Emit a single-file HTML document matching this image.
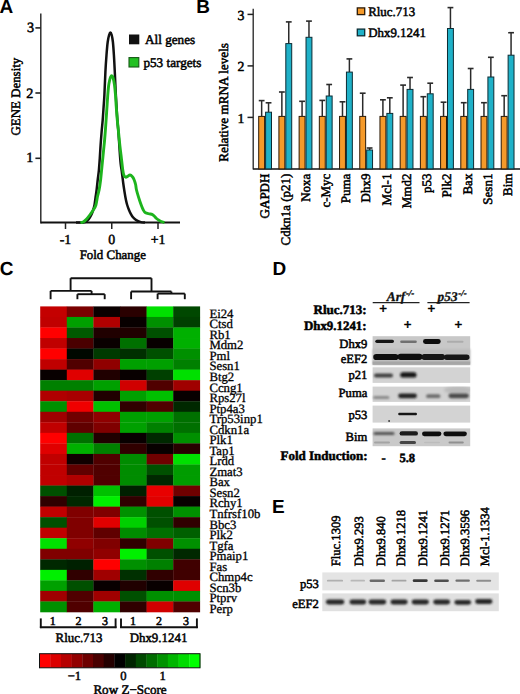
<!DOCTYPE html>
<html><head><meta charset="utf-8"><style>
html,body{margin:0;padding:0;background:#fff;}
svg{display:block;} text{text-rendering:geometricPrecision;}
</style></head><body>
<svg width="520" height="694" viewBox="0 0 520 694">
<defs><filter id="b1" x="-20%" y="-100%" width="140%" height="300%"><feGaussianBlur stdDeviation="0.1"/></filter><filter id="b2" x="-20%" y="-100%" width="140%" height="300%"><feGaussianBlur stdDeviation="0.2"/></filter><filter id="b3" x="-20%" y="-100%" width="140%" height="300%"><feGaussianBlur stdDeviation="0.3"/></filter><filter id="b4" x="-20%" y="-100%" width="140%" height="300%"><feGaussianBlur stdDeviation="0.4"/></filter><filter id="b5" x="-20%" y="-100%" width="140%" height="300%"><feGaussianBlur stdDeviation="0.5"/></filter><filter id="b6" x="-20%" y="-100%" width="140%" height="300%"><feGaussianBlur stdDeviation="0.6"/></filter><filter id="b7" x="-20%" y="-100%" width="140%" height="300%"><feGaussianBlur stdDeviation="0.7"/></filter><filter id="b8" x="-20%" y="-100%" width="140%" height="300%"><feGaussianBlur stdDeviation="0.8"/></filter><filter id="b9" x="-20%" y="-100%" width="140%" height="300%"><feGaussianBlur stdDeviation="0.9"/></filter><filter id="b10" x="-20%" y="-100%" width="140%" height="300%"><feGaussianBlur stdDeviation="1.0"/></filter><filter id="b11" x="-20%" y="-100%" width="140%" height="300%"><feGaussianBlur stdDeviation="1.1"/></filter><filter id="b12" x="-20%" y="-100%" width="140%" height="300%"><feGaussianBlur stdDeviation="1.2"/></filter><filter id="b13" x="-20%" y="-100%" width="140%" height="300%"><feGaussianBlur stdDeviation="1.3"/></filter><filter id="b14" x="-20%" y="-100%" width="140%" height="300%"><feGaussianBlur stdDeviation="1.4"/></filter><filter id="b15" x="-20%" y="-100%" width="140%" height="300%"><feGaussianBlur stdDeviation="1.5"/></filter><filter id="b16" x="-20%" y="-100%" width="140%" height="300%"><feGaussianBlur stdDeviation="1.6"/></filter><filter id="b17" x="-20%" y="-100%" width="140%" height="300%"><feGaussianBlur stdDeviation="1.7"/></filter><filter id="b18" x="-20%" y="-100%" width="140%" height="300%"><feGaussianBlur stdDeviation="1.8"/></filter><filter id="b19" x="-20%" y="-100%" width="140%" height="300%"><feGaussianBlur stdDeviation="1.9"/></filter><filter id="b20" x="-20%" y="-100%" width="140%" height="300%"><feGaussianBlur stdDeviation="2.0"/></filter><filter id="b21" x="-20%" y="-100%" width="140%" height="300%"><feGaussianBlur stdDeviation="2.1"/></filter><filter id="b22" x="-20%" y="-100%" width="140%" height="300%"><feGaussianBlur stdDeviation="2.2"/></filter><filter id="b23" x="-20%" y="-100%" width="140%" height="300%"><feGaussianBlur stdDeviation="2.3"/></filter><filter id="b24" x="-20%" y="-100%" width="140%" height="300%"><feGaussianBlur stdDeviation="2.4"/></filter><filter id="b25" x="-20%" y="-100%" width="140%" height="300%"><feGaussianBlur stdDeviation="2.5"/></filter><filter id="b26" x="-20%" y="-100%" width="140%" height="300%"><feGaussianBlur stdDeviation="2.6"/></filter><filter id="b27" x="-20%" y="-100%" width="140%" height="300%"><feGaussianBlur stdDeviation="2.7"/></filter><filter id="b28" x="-20%" y="-100%" width="140%" height="300%"><feGaussianBlur stdDeviation="2.8"/></filter><filter id="b29" x="-20%" y="-100%" width="140%" height="300%"><feGaussianBlur stdDeviation="2.9"/></filter><filter id="b30" x="-20%" y="-100%" width="140%" height="300%"><feGaussianBlur stdDeviation="3.0"/></filter></defs>
<rect width="520" height="694" fill="#fff"/>
<text x="-0.60" y="12.60" font-size="19" text-anchor="start" font-weight="bold" font-style="normal" font-family="'Liberation Sans', sans-serif" fill="#000" >A</text>
<text x="196.20" y="12.60" font-size="19" text-anchor="start" font-weight="bold" font-style="normal" font-family="'Liberation Sans', sans-serif" fill="#000" >B</text>
<text x="-0.20" y="274.60" font-size="19" text-anchor="start" font-weight="bold" font-style="normal" font-family="'Liberation Sans', sans-serif" fill="#000" >C</text>
<text x="272.60" y="274.60" font-size="19" text-anchor="start" font-weight="bold" font-style="normal" font-family="'Liberation Sans', sans-serif" fill="#000" >D</text>
<text x="271.90" y="513.40" font-size="19" text-anchor="start" font-weight="bold" font-style="normal" font-family="'Liberation Sans', sans-serif" fill="#000" >E</text>
<line x1="40.80" y1="13.50" x2="40.80" y2="223.40" stroke="#222" stroke-width="1.4"/>
<line x1="40.80" y1="222.60" x2="180.00" y2="222.60" stroke="#111" stroke-width="2.0"/>
<line x1="35.40" y1="27.90" x2="40.80" y2="27.90" stroke="#222" stroke-width="1.6"/>
<text x="34.20" y="31.80" font-size="14.2" text-anchor="end" font-weight="normal" font-style="normal" font-family="'Liberation Serif', serif" fill="#000" stroke="#000" stroke-width="0.5" >3</text>
<line x1="35.40" y1="93.00" x2="40.80" y2="93.00" stroke="#222" stroke-width="1.6"/>
<text x="33.30" y="97.60" font-size="14.2" text-anchor="end" font-weight="normal" font-style="normal" font-family="'Liberation Serif', serif" fill="#000" stroke="#000" stroke-width="0.5" >2</text>
<line x1="35.40" y1="158.30" x2="40.80" y2="158.30" stroke="#222" stroke-width="1.6"/>
<text x="33.40" y="162.30" font-size="14.2" text-anchor="end" font-weight="normal" font-style="normal" font-family="'Liberation Serif', serif" fill="#000" stroke="#000" stroke-width="0.5" >1</text>
<line x1="65.50" y1="222.60" x2="65.50" y2="229.00" stroke="#222" stroke-width="1.5"/>
<text x="65.50" y="244.30" font-size="13.8" text-anchor="middle" font-weight="normal" font-style="normal" font-family="'Liberation Serif', serif" fill="#000" stroke="#000" stroke-width="0.5" >-1</text>
<line x1="111.75" y1="222.60" x2="111.75" y2="229.00" stroke="#222" stroke-width="1.5"/>
<text x="111.75" y="244.30" font-size="13.8" text-anchor="middle" font-weight="normal" font-style="normal" font-family="'Liberation Serif', serif" fill="#000" stroke="#000" stroke-width="0.5" >0</text>
<line x1="158.00" y1="222.60" x2="158.00" y2="229.00" stroke="#222" stroke-width="1.5"/>
<text x="158.00" y="244.30" font-size="13.8" text-anchor="middle" font-weight="normal" font-style="normal" font-family="'Liberation Serif', serif" fill="#000" stroke="#000" stroke-width="0.5" >+1</text>
<text x="112.80" y="258.80" font-size="12.9" text-anchor="middle" font-weight="normal" font-style="normal" font-family="'Liberation Serif', serif" fill="#000" stroke="#000" stroke-width="0.5" >Fold Change</text>
<text transform="translate(19.90,96.60) rotate(-90)" font-size="12.9" text-anchor="middle" font-weight="normal" font-family="'Liberation Serif', serif" fill="#000" stroke="#000" stroke-width="0.5">GENE Density</text>
<path d="M76.00,222.60 C76.67,222.60 78.75,222.63 80.00,222.60 C81.25,222.57 82.50,222.57 83.50,222.40 C84.50,222.23 85.13,222.13 86.00,221.60 C86.87,221.07 87.87,220.22 88.70,219.20 C89.53,218.18 90.28,216.95 91.00,215.50 C91.72,214.05 92.42,212.25 93.00,210.50 C93.58,208.75 94.07,207.25 94.50,205.00 C94.93,202.75 95.25,199.50 95.60,197.00 C95.95,194.50 96.25,192.83 96.60,190.00 C96.95,187.17 97.32,183.33 97.70,180.00 C98.08,176.67 98.55,173.67 98.90,170.00 C99.25,166.33 99.52,162.17 99.80,158.00 C100.08,153.83 100.30,149.33 100.60,145.00 C100.90,140.67 101.25,136.17 101.60,132.00 C101.95,127.83 102.37,124.17 102.70,120.00 C103.03,115.83 103.32,111.17 103.60,107.00 C103.88,102.83 104.10,100.83 104.40,95.00 C104.70,89.17 105.05,78.67 105.40,72.00 C105.75,65.33 106.12,60.00 106.50,55.00 C106.88,50.00 107.27,45.33 107.70,42.00 C108.13,38.67 108.65,36.57 109.10,35.00 C109.55,33.43 109.97,32.60 110.40,32.60 C110.83,32.60 111.28,33.43 111.70,35.00 C112.12,36.57 112.53,38.67 112.90,42.00 C113.27,45.33 113.58,50.00 113.90,55.00 C114.22,60.00 114.48,65.50 114.80,72.00 C115.12,78.50 115.40,86.40 115.80,94.00 C116.20,101.60 116.75,111.10 117.20,117.60 C117.65,124.10 118.10,127.60 118.50,133.00 C118.90,138.40 119.25,145.00 119.60,150.00 C119.95,155.00 120.23,159.42 120.60,163.00 C120.97,166.58 121.37,168.17 121.80,171.50 C122.23,174.83 122.75,179.63 123.20,183.00 C123.65,186.37 124.05,188.90 124.50,191.70 C124.95,194.50 125.45,197.58 125.90,199.80 C126.35,202.02 126.68,203.30 127.20,205.00 C127.72,206.70 128.40,208.53 129.00,210.00 C129.60,211.47 130.13,212.58 130.80,213.80 C131.47,215.02 132.23,216.33 133.00,217.30 C133.77,218.27 134.53,218.95 135.40,219.60 C136.27,220.25 137.27,220.78 138.20,221.20 C139.13,221.62 139.87,221.87 141.00,222.10 C142.13,222.33 144.33,222.52 145.00,222.60" fill="none" stroke="#111" stroke-width="2.5" stroke-linejoin="round"/>
<path d="M80.40,222.60 C80.87,222.50 82.20,222.57 83.20,222.00 C84.20,221.43 85.30,220.37 86.40,219.20 C87.50,218.03 88.65,216.53 89.80,215.00 C90.95,213.47 92.28,211.67 93.30,210.00 C94.32,208.33 95.18,207.33 95.90,205.00 C96.62,202.67 97.07,198.50 97.60,196.00 C98.13,193.50 98.60,192.67 99.10,190.00 C99.60,187.33 100.18,183.33 100.60,180.00 C101.02,176.67 101.27,173.33 101.60,170.00 C101.93,166.67 102.27,163.33 102.60,160.00 C102.93,156.67 103.27,153.33 103.60,150.00 C103.93,146.67 104.30,143.33 104.60,140.00 C104.90,136.67 105.15,133.33 105.40,130.00 C105.65,126.67 105.85,123.67 106.10,120.00 C106.35,116.33 106.63,112.00 106.90,108.00 C107.17,104.00 107.42,99.67 107.70,96.00 C107.98,92.33 108.27,88.67 108.60,86.00 C108.93,83.33 109.37,81.50 109.70,80.00 C110.03,78.50 110.28,77.70 110.60,77.00 C110.92,76.30 111.22,75.77 111.60,75.80 C111.98,75.83 112.43,75.77 112.90,77.20 C113.37,78.63 113.97,81.43 114.40,84.40 C114.83,87.37 115.20,91.40 115.50,95.00 C115.80,98.60 115.90,101.83 116.20,106.00 C116.50,110.17 116.90,115.50 117.30,120.00 C117.70,124.50 118.17,128.67 118.60,133.00 C119.03,137.33 119.50,142.33 119.90,146.00 C120.30,149.67 120.70,152.50 121.00,155.00 C121.30,157.50 121.43,158.72 121.70,161.00 C121.97,163.28 122.25,166.37 122.60,168.70 C122.95,171.03 123.28,173.58 123.80,175.00 C124.32,176.42 125.08,176.97 125.70,177.20 C126.32,177.43 126.78,176.77 127.50,176.40 C128.22,176.03 129.18,174.95 130.00,175.00 C130.82,175.05 131.73,175.95 132.40,176.70 C133.07,177.45 133.47,178.20 134.00,179.50 C134.53,180.80 135.18,182.75 135.60,184.50 C136.02,186.25 135.98,187.82 136.50,190.00 C137.02,192.18 137.92,195.10 138.70,197.60 C139.48,200.10 140.43,202.93 141.20,205.00 C141.97,207.07 142.58,208.70 143.30,210.00 C144.02,211.30 144.48,212.17 145.50,212.80 C146.52,213.43 148.32,213.53 149.40,213.80 C150.48,214.07 151.20,214.03 152.00,214.40 C152.80,214.77 153.45,215.32 154.20,216.00 C154.95,216.68 155.70,217.78 156.50,218.50 C157.30,219.22 158.22,219.80 159.00,220.30 C159.78,220.80 160.28,221.13 161.20,221.50 C162.12,221.87 163.95,222.33 164.50,222.50" fill="none" stroke="#1db41d" stroke-width="2.9" stroke-linejoin="round"/>
<rect x="129.00" y="34.50" width="10.30" height="9.80" fill="#111"/>
<text x="145.00" y="44.30" font-size="13.2" text-anchor="start" font-weight="normal" font-style="normal" font-family="'Liberation Serif', serif" fill="#000" stroke="#000" stroke-width="0.5" >All genes</text>
<rect x="129.00" y="57.60" width="9.80" height="9.40" fill="#22c022" stroke="#145814" stroke-width="1.1"/>
<text x="143.40" y="67.40" font-size="13.2" text-anchor="start" font-weight="normal" font-style="normal" font-family="'Liberation Serif', serif" fill="#000" stroke="#000" stroke-width="0.5" >p53 targets</text>
<line x1="253.20" y1="8.80" x2="253.20" y2="169.50" stroke="#222" stroke-width="1.3"/>
<line x1="253.20" y1="168.90" x2="520.00" y2="168.90" stroke="#111" stroke-width="1.5"/>
<line x1="247.50" y1="117.40" x2="253.20" y2="117.40" stroke="#222" stroke-width="1.5"/>
<text x="244.30" y="122.70" font-size="13.8" text-anchor="end" font-weight="normal" font-style="normal" font-family="'Liberation Serif', serif" fill="#000" stroke="#000" stroke-width="0.5" >1</text>
<line x1="247.50" y1="65.90" x2="253.20" y2="65.90" stroke="#222" stroke-width="1.5"/>
<text x="244.30" y="71.20" font-size="13.8" text-anchor="end" font-weight="normal" font-style="normal" font-family="'Liberation Serif', serif" fill="#000" stroke="#000" stroke-width="0.5" >2</text>
<line x1="247.50" y1="14.40" x2="253.20" y2="14.40" stroke="#222" stroke-width="1.5"/>
<text x="244.30" y="19.70" font-size="13.8" text-anchor="end" font-weight="normal" font-style="normal" font-family="'Liberation Serif', serif" fill="#000" stroke="#000" stroke-width="0.5" >3</text>
<text transform="translate(227.60,102.40) rotate(-90)" font-size="13.2" text-anchor="middle" font-weight="normal" font-family="'Liberation Serif', serif" fill="#000" stroke="#000" stroke-width="0.5">Relative mRNA levels</text>
<line x1="261.65" y1="100.60" x2="261.65" y2="116.40" stroke="#2a2a2a" stroke-width="1.5"/>
<line x1="258.75" y1="100.60" x2="264.55" y2="100.60" stroke="#2a2a2a" stroke-width="1.6"/>
<line x1="268.55" y1="102.80" x2="268.55" y2="112.20" stroke="#2a2a2a" stroke-width="1.5"/>
<line x1="265.65" y1="102.80" x2="271.45" y2="102.80" stroke="#2a2a2a" stroke-width="1.6"/>
<rect x="258.70" y="116.40" width="5.90" height="52.50" fill="#f59a2a" stroke="#2a1a08" stroke-width="1.0"/>
<rect x="265.60" y="112.20" width="5.90" height="56.70" fill="#1fb1c8" stroke="#0c2c34" stroke-width="1.0"/>
<text transform="translate(269.40,173.60) rotate(-90)" font-size="13.0" text-anchor="end" font-weight="normal" font-family="'Liberation Serif', serif" fill="#000" stroke="#000" stroke-width="0.5">GAPDH</text>
<line x1="281.86" y1="92.00" x2="281.86" y2="116.40" stroke="#2a2a2a" stroke-width="1.5"/>
<line x1="278.96" y1="92.00" x2="284.76" y2="92.00" stroke="#2a2a2a" stroke-width="1.6"/>
<line x1="288.76" y1="21.90" x2="288.76" y2="43.60" stroke="#2a2a2a" stroke-width="1.5"/>
<line x1="285.86" y1="21.90" x2="291.66" y2="21.90" stroke="#2a2a2a" stroke-width="1.6"/>
<rect x="278.91" y="116.40" width="5.90" height="52.50" fill="#f59a2a" stroke="#2a1a08" stroke-width="1.0"/>
<rect x="285.81" y="43.60" width="5.90" height="125.30" fill="#1fb1c8" stroke="#0c2c34" stroke-width="1.0"/>
<text transform="translate(289.61,173.60) rotate(-90)" font-size="13.0" text-anchor="end" font-weight="normal" font-family="'Liberation Serif', serif" fill="#000" stroke="#000" stroke-width="0.5">Cdkn1a (p21)</text>
<line x1="302.07" y1="101.30" x2="302.07" y2="116.40" stroke="#2a2a2a" stroke-width="1.5"/>
<line x1="299.17" y1="101.30" x2="304.97" y2="101.30" stroke="#2a2a2a" stroke-width="1.6"/>
<line x1="308.97" y1="21.10" x2="308.97" y2="37.30" stroke="#2a2a2a" stroke-width="1.5"/>
<line x1="306.07" y1="21.10" x2="311.87" y2="21.10" stroke="#2a2a2a" stroke-width="1.6"/>
<rect x="299.12" y="116.40" width="5.90" height="52.50" fill="#f59a2a" stroke="#2a1a08" stroke-width="1.0"/>
<rect x="306.02" y="37.30" width="5.90" height="131.60" fill="#1fb1c8" stroke="#0c2c34" stroke-width="1.0"/>
<text transform="translate(309.82,173.60) rotate(-90)" font-size="13.0" text-anchor="end" font-weight="normal" font-family="'Liberation Serif', serif" fill="#000" stroke="#000" stroke-width="0.5">Noxa</text>
<line x1="322.28" y1="100.40" x2="322.28" y2="116.40" stroke="#2a2a2a" stroke-width="1.5"/>
<line x1="319.38" y1="100.40" x2="325.18" y2="100.40" stroke="#2a2a2a" stroke-width="1.6"/>
<line x1="329.18" y1="84.50" x2="329.18" y2="96.00" stroke="#2a2a2a" stroke-width="1.5"/>
<line x1="326.28" y1="84.50" x2="332.08" y2="84.50" stroke="#2a2a2a" stroke-width="1.6"/>
<rect x="319.33" y="116.40" width="5.90" height="52.50" fill="#f59a2a" stroke="#2a1a08" stroke-width="1.0"/>
<rect x="326.23" y="96.00" width="5.90" height="72.90" fill="#1fb1c8" stroke="#0c2c34" stroke-width="1.0"/>
<text transform="translate(330.03,173.60) rotate(-90)" font-size="13.0" text-anchor="end" font-weight="normal" font-family="'Liberation Serif', serif" fill="#000" stroke="#000" stroke-width="0.5">c-Myc</text>
<line x1="342.49" y1="101.80" x2="342.49" y2="116.40" stroke="#2a2a2a" stroke-width="1.5"/>
<line x1="339.59" y1="101.80" x2="345.39" y2="101.80" stroke="#2a2a2a" stroke-width="1.6"/>
<line x1="349.39" y1="58.90" x2="349.39" y2="72.10" stroke="#2a2a2a" stroke-width="1.5"/>
<line x1="346.49" y1="58.90" x2="352.29" y2="58.90" stroke="#2a2a2a" stroke-width="1.6"/>
<rect x="339.54" y="116.40" width="5.90" height="52.50" fill="#f59a2a" stroke="#2a1a08" stroke-width="1.0"/>
<rect x="346.44" y="72.10" width="5.90" height="96.80" fill="#1fb1c8" stroke="#0c2c34" stroke-width="1.0"/>
<text transform="translate(350.24,173.60) rotate(-90)" font-size="13.0" text-anchor="end" font-weight="normal" font-family="'Liberation Serif', serif" fill="#000" stroke="#000" stroke-width="0.5">Puma</text>
<line x1="362.70" y1="93.20" x2="362.70" y2="116.40" stroke="#2a2a2a" stroke-width="1.5"/>
<line x1="359.80" y1="93.20" x2="365.60" y2="93.20" stroke="#2a2a2a" stroke-width="1.6"/>
<line x1="369.60" y1="148.00" x2="369.60" y2="150.00" stroke="#2a2a2a" stroke-width="1.5"/>
<line x1="366.70" y1="148.00" x2="372.50" y2="148.00" stroke="#2a2a2a" stroke-width="1.6"/>
<rect x="359.75" y="116.40" width="5.90" height="52.50" fill="#f59a2a" stroke="#2a1a08" stroke-width="1.0"/>
<rect x="366.65" y="150.00" width="5.90" height="18.90" fill="#1fb1c8" stroke="#0c2c34" stroke-width="1.0"/>
<text transform="translate(370.45,173.60) rotate(-90)" font-size="13.0" text-anchor="end" font-weight="normal" font-family="'Liberation Serif', serif" fill="#000" stroke="#000" stroke-width="0.5">Dhx9</text>
<line x1="382.91" y1="99.80" x2="382.91" y2="116.40" stroke="#2a2a2a" stroke-width="1.5"/>
<line x1="380.01" y1="99.80" x2="385.81" y2="99.80" stroke="#2a2a2a" stroke-width="1.6"/>
<line x1="389.81" y1="97.80" x2="389.81" y2="113.40" stroke="#2a2a2a" stroke-width="1.5"/>
<line x1="386.91" y1="97.80" x2="392.71" y2="97.80" stroke="#2a2a2a" stroke-width="1.6"/>
<rect x="379.96" y="116.40" width="5.90" height="52.50" fill="#f59a2a" stroke="#2a1a08" stroke-width="1.0"/>
<rect x="386.86" y="113.40" width="5.90" height="55.50" fill="#1fb1c8" stroke="#0c2c34" stroke-width="1.0"/>
<text transform="translate(390.66,173.60) rotate(-90)" font-size="13.0" text-anchor="end" font-weight="normal" font-family="'Liberation Serif', serif" fill="#000" stroke="#000" stroke-width="0.5">Mcl-1</text>
<line x1="403.12" y1="85.10" x2="403.12" y2="116.40" stroke="#2a2a2a" stroke-width="1.5"/>
<line x1="400.22" y1="85.10" x2="406.02" y2="85.10" stroke="#2a2a2a" stroke-width="1.6"/>
<line x1="410.02" y1="77.50" x2="410.02" y2="89.40" stroke="#2a2a2a" stroke-width="1.5"/>
<line x1="407.12" y1="77.50" x2="412.92" y2="77.50" stroke="#2a2a2a" stroke-width="1.6"/>
<rect x="400.17" y="116.40" width="5.90" height="52.50" fill="#f59a2a" stroke="#2a1a08" stroke-width="1.0"/>
<rect x="407.07" y="89.40" width="5.90" height="79.50" fill="#1fb1c8" stroke="#0c2c34" stroke-width="1.0"/>
<text transform="translate(410.87,173.60) rotate(-90)" font-size="13.0" text-anchor="end" font-weight="normal" font-family="'Liberation Serif', serif" fill="#000" stroke="#000" stroke-width="0.5">Mmd2</text>
<line x1="423.33" y1="96.70" x2="423.33" y2="116.40" stroke="#2a2a2a" stroke-width="1.5"/>
<line x1="420.43" y1="96.70" x2="426.23" y2="96.70" stroke="#2a2a2a" stroke-width="1.6"/>
<line x1="430.23" y1="83.20" x2="430.23" y2="93.80" stroke="#2a2a2a" stroke-width="1.5"/>
<line x1="427.33" y1="83.20" x2="433.13" y2="83.20" stroke="#2a2a2a" stroke-width="1.6"/>
<rect x="420.38" y="116.40" width="5.90" height="52.50" fill="#f59a2a" stroke="#2a1a08" stroke-width="1.0"/>
<rect x="427.28" y="93.80" width="5.90" height="75.10" fill="#1fb1c8" stroke="#0c2c34" stroke-width="1.0"/>
<text transform="translate(431.08,173.60) rotate(-90)" font-size="13.0" text-anchor="end" font-weight="normal" font-family="'Liberation Serif', serif" fill="#000" stroke="#000" stroke-width="0.5">p53</text>
<line x1="443.54" y1="102.20" x2="443.54" y2="116.40" stroke="#2a2a2a" stroke-width="1.5"/>
<line x1="440.64" y1="102.20" x2="446.44" y2="102.20" stroke="#2a2a2a" stroke-width="1.6"/>
<line x1="450.44" y1="7.60" x2="450.44" y2="28.50" stroke="#2a2a2a" stroke-width="1.5"/>
<line x1="447.54" y1="7.60" x2="453.34" y2="7.60" stroke="#2a2a2a" stroke-width="1.6"/>
<rect x="440.59" y="116.40" width="5.90" height="52.50" fill="#f59a2a" stroke="#2a1a08" stroke-width="1.0"/>
<rect x="447.49" y="28.50" width="5.90" height="140.40" fill="#1fb1c8" stroke="#0c2c34" stroke-width="1.0"/>
<text transform="translate(451.29,173.60) rotate(-90)" font-size="13.0" text-anchor="end" font-weight="normal" font-family="'Liberation Serif', serif" fill="#000" stroke="#000" stroke-width="0.5">Plk2</text>
<line x1="463.75" y1="102.70" x2="463.75" y2="116.40" stroke="#2a2a2a" stroke-width="1.5"/>
<line x1="460.85" y1="102.70" x2="466.65" y2="102.70" stroke="#2a2a2a" stroke-width="1.6"/>
<line x1="470.65" y1="68.50" x2="470.65" y2="89.40" stroke="#2a2a2a" stroke-width="1.5"/>
<line x1="467.75" y1="68.50" x2="473.55" y2="68.50" stroke="#2a2a2a" stroke-width="1.6"/>
<rect x="460.80" y="116.40" width="5.90" height="52.50" fill="#f59a2a" stroke="#2a1a08" stroke-width="1.0"/>
<rect x="467.70" y="89.40" width="5.90" height="79.50" fill="#1fb1c8" stroke="#0c2c34" stroke-width="1.0"/>
<text transform="translate(471.50,173.60) rotate(-90)" font-size="13.0" text-anchor="end" font-weight="normal" font-family="'Liberation Serif', serif" fill="#000" stroke="#000" stroke-width="0.5">Bax</text>
<line x1="483.96" y1="102.70" x2="483.96" y2="116.40" stroke="#2a2a2a" stroke-width="1.5"/>
<line x1="481.06" y1="102.70" x2="486.86" y2="102.70" stroke="#2a2a2a" stroke-width="1.6"/>
<line x1="490.86" y1="57.30" x2="490.86" y2="77.00" stroke="#2a2a2a" stroke-width="1.5"/>
<line x1="487.96" y1="57.30" x2="493.76" y2="57.30" stroke="#2a2a2a" stroke-width="1.6"/>
<rect x="481.01" y="116.40" width="5.90" height="52.50" fill="#f59a2a" stroke="#2a1a08" stroke-width="1.0"/>
<rect x="487.91" y="77.00" width="5.90" height="91.90" fill="#1fb1c8" stroke="#0c2c34" stroke-width="1.0"/>
<text transform="translate(491.71,173.60) rotate(-90)" font-size="13.0" text-anchor="end" font-weight="normal" font-family="'Liberation Serif', serif" fill="#000" stroke="#000" stroke-width="0.5">Sesn1</text>
<line x1="504.17" y1="95.70" x2="504.17" y2="116.40" stroke="#2a2a2a" stroke-width="1.5"/>
<line x1="501.27" y1="95.70" x2="507.07" y2="95.70" stroke="#2a2a2a" stroke-width="1.6"/>
<line x1="511.07" y1="32.70" x2="511.07" y2="55.20" stroke="#2a2a2a" stroke-width="1.5"/>
<line x1="508.17" y1="32.70" x2="513.97" y2="32.70" stroke="#2a2a2a" stroke-width="1.6"/>
<rect x="501.22" y="116.40" width="5.90" height="52.50" fill="#f59a2a" stroke="#2a1a08" stroke-width="1.0"/>
<rect x="508.12" y="55.20" width="5.90" height="113.70" fill="#1fb1c8" stroke="#0c2c34" stroke-width="1.0"/>
<text transform="translate(511.92,173.60) rotate(-90)" font-size="13.0" text-anchor="end" font-weight="normal" font-family="'Liberation Serif', serif" fill="#000" stroke="#000" stroke-width="0.5">Bim</text>
<rect x="357.30" y="7.90" width="7.40" height="6.70" fill="#f59a2a" stroke="#2a1a08" stroke-width="1.3"/>
<text x="368.20" y="15.60" font-size="12.9" text-anchor="start" font-weight="normal" font-style="normal" font-family="'Liberation Serif', serif" fill="#000" stroke="#000" stroke-width="0.5" >Rluc.713</text>
<rect x="357.30" y="29.10" width="7.40" height="6.70" fill="#1fb1c8" stroke="#0c2c34" stroke-width="1.3"/>
<text x="368.20" y="36.60" font-size="12.9" text-anchor="start" font-weight="normal" font-style="normal" font-family="'Liberation Serif', serif" fill="#000" stroke="#000" stroke-width="0.5" >Dhx9.1241</text>
<rect x="40.20" y="306.40" width="26.90" height="10.84" fill="rgb(196,0,0)"/>
<rect x="66.80" y="306.40" width="26.90" height="10.84" fill="rgb(122,0,0)"/>
<rect x="93.40" y="306.40" width="26.90" height="10.84" fill="rgb(10,0,0)"/>
<rect x="120.00" y="306.40" width="26.90" height="10.84" fill="rgb(42,0,0)"/>
<rect x="146.60" y="306.40" width="26.90" height="10.84" fill="rgb(0,224,0)"/>
<rect x="173.20" y="306.40" width="26.90" height="10.84" fill="rgb(0,72,0)"/>
<rect x="40.20" y="316.94" width="26.90" height="10.84" fill="rgb(192,0,0)"/>
<rect x="66.80" y="316.94" width="26.90" height="10.84" fill="rgb(0,160,0)"/>
<rect x="93.40" y="316.94" width="26.90" height="10.84" fill="rgb(176,0,0)"/>
<rect x="120.00" y="316.94" width="26.90" height="10.84" fill="rgb(8,0,0)"/>
<rect x="146.60" y="316.94" width="26.90" height="10.84" fill="rgb(0,144,0)"/>
<rect x="173.20" y="316.94" width="26.90" height="10.84" fill="rgb(0,64,0)"/>
<rect x="40.20" y="327.48" width="26.90" height="10.84" fill="rgb(255,0,0)"/>
<rect x="66.80" y="327.48" width="26.90" height="10.84" fill="rgb(0,90,0)"/>
<rect x="93.40" y="327.48" width="26.90" height="10.84" fill="rgb(32,0,0)"/>
<rect x="120.00" y="327.48" width="26.90" height="10.84" fill="rgb(32,0,0)"/>
<rect x="146.60" y="327.48" width="26.90" height="10.84" fill="rgb(0,80,0)"/>
<rect x="173.20" y="327.48" width="26.90" height="10.84" fill="rgb(0,176,0)"/>
<rect x="40.20" y="338.01" width="26.90" height="10.84" fill="rgb(192,0,0)"/>
<rect x="66.80" y="338.01" width="26.90" height="10.84" fill="rgb(74,0,0)"/>
<rect x="93.40" y="338.01" width="26.90" height="10.84" fill="rgb(10,0,0)"/>
<rect x="120.00" y="338.01" width="26.90" height="10.84" fill="rgb(0,112,0)"/>
<rect x="146.60" y="338.01" width="26.90" height="10.84" fill="rgb(8,0,0)"/>
<rect x="173.20" y="338.01" width="26.90" height="10.84" fill="rgb(0,176,0)"/>
<rect x="40.20" y="348.55" width="26.90" height="10.84" fill="rgb(255,0,0)"/>
<rect x="66.80" y="348.55" width="26.90" height="10.84" fill="rgb(0,8,0)"/>
<rect x="93.40" y="348.55" width="26.90" height="10.84" fill="rgb(0,58,0)"/>
<rect x="120.00" y="348.55" width="26.90" height="10.84" fill="rgb(0,48,0)"/>
<rect x="146.60" y="348.55" width="26.90" height="10.84" fill="rgb(0,80,0)"/>
<rect x="173.20" y="348.55" width="26.90" height="10.84" fill="rgb(0,144,0)"/>
<rect x="40.20" y="359.09" width="26.90" height="10.84" fill="rgb(192,0,0)"/>
<rect x="66.80" y="359.09" width="26.90" height="10.84" fill="rgb(80,0,0)"/>
<rect x="93.40" y="359.09" width="26.90" height="10.84" fill="rgb(144,0,0)"/>
<rect x="120.00" y="359.09" width="26.90" height="10.84" fill="rgb(0,160,0)"/>
<rect x="146.60" y="359.09" width="26.90" height="10.84" fill="rgb(0,160,0)"/>
<rect x="173.20" y="359.09" width="26.90" height="10.84" fill="rgb(0,128,0)"/>
<rect x="40.20" y="369.63" width="26.90" height="10.84" fill="rgb(8,0,0)"/>
<rect x="66.80" y="369.63" width="26.90" height="10.84" fill="rgb(224,0,0)"/>
<rect x="93.40" y="369.63" width="26.90" height="10.84" fill="rgb(32,0,0)"/>
<rect x="120.00" y="369.63" width="26.90" height="10.84" fill="rgb(8,0,0)"/>
<rect x="146.60" y="369.63" width="26.90" height="10.84" fill="rgb(0,64,0)"/>
<rect x="173.20" y="369.63" width="26.90" height="10.84" fill="rgb(0,224,0)"/>
<rect x="40.20" y="380.17" width="26.90" height="10.84" fill="rgb(0,128,0)"/>
<rect x="66.80" y="380.17" width="26.90" height="10.84" fill="rgb(0,128,0)"/>
<rect x="93.40" y="380.17" width="26.90" height="10.84" fill="rgb(0,160,0)"/>
<rect x="120.00" y="380.17" width="26.90" height="10.84" fill="rgb(208,0,0)"/>
<rect x="146.60" y="380.17" width="26.90" height="10.84" fill="rgb(80,0,0)"/>
<rect x="173.20" y="380.17" width="26.90" height="10.84" fill="rgb(160,0,0)"/>
<rect x="40.20" y="390.70" width="26.90" height="10.84" fill="rgb(176,0,0)"/>
<rect x="66.80" y="390.70" width="26.90" height="10.84" fill="rgb(168,0,0)"/>
<rect x="93.40" y="390.70" width="26.90" height="10.84" fill="rgb(32,0,0)"/>
<rect x="120.00" y="390.70" width="26.90" height="10.84" fill="rgb(0,160,0)"/>
<rect x="146.60" y="390.70" width="26.90" height="10.84" fill="rgb(0,192,0)"/>
<rect x="173.20" y="390.70" width="26.90" height="10.84" fill="rgb(8,0,0)"/>
<rect x="40.20" y="401.24" width="26.90" height="10.84" fill="rgb(0,144,0)"/>
<rect x="66.80" y="401.24" width="26.90" height="10.84" fill="rgb(240,0,0)"/>
<rect x="93.40" y="401.24" width="26.90" height="10.84" fill="rgb(0,192,0)"/>
<rect x="120.00" y="401.24" width="26.90" height="10.84" fill="rgb(48,0,0)"/>
<rect x="146.60" y="401.24" width="26.90" height="10.84" fill="rgb(80,0,0)"/>
<rect x="173.20" y="401.24" width="26.90" height="10.84" fill="rgb(0,40,0)"/>
<rect x="40.20" y="411.78" width="26.90" height="10.84" fill="rgb(160,0,0)"/>
<rect x="66.80" y="411.78" width="26.90" height="10.84" fill="rgb(112,0,0)"/>
<rect x="93.40" y="411.78" width="26.90" height="10.84" fill="rgb(144,0,0)"/>
<rect x="120.00" y="411.78" width="26.90" height="10.84" fill="rgb(0,160,0)"/>
<rect x="146.60" y="411.78" width="26.90" height="10.84" fill="rgb(0,160,0)"/>
<rect x="173.20" y="411.78" width="26.90" height="10.84" fill="rgb(0,112,0)"/>
<rect x="40.20" y="422.32" width="26.90" height="10.84" fill="rgb(192,0,0)"/>
<rect x="66.80" y="422.32" width="26.90" height="10.84" fill="rgb(96,0,0)"/>
<rect x="93.40" y="422.32" width="26.90" height="10.84" fill="rgb(128,0,0)"/>
<rect x="120.00" y="422.32" width="26.90" height="10.84" fill="rgb(0,160,0)"/>
<rect x="146.60" y="422.32" width="26.90" height="10.84" fill="rgb(0,128,0)"/>
<rect x="173.20" y="422.32" width="26.90" height="10.84" fill="rgb(0,112,0)"/>
<rect x="40.20" y="432.86" width="26.90" height="10.84" fill="rgb(255,0,0)"/>
<rect x="66.80" y="432.86" width="26.90" height="10.84" fill="rgb(0,112,0)"/>
<rect x="93.40" y="432.86" width="26.90" height="10.84" fill="rgb(32,0,0)"/>
<rect x="120.00" y="432.86" width="26.90" height="10.84" fill="rgb(8,0,0)"/>
<rect x="146.60" y="432.86" width="26.90" height="10.84" fill="rgb(0,40,0)"/>
<rect x="173.20" y="432.86" width="26.90" height="10.84" fill="rgb(0,144,0)"/>
<rect x="40.20" y="443.39" width="26.90" height="10.84" fill="rgb(224,0,0)"/>
<rect x="66.80" y="443.39" width="26.90" height="10.84" fill="rgb(0,176,0)"/>
<rect x="93.40" y="443.39" width="26.90" height="10.84" fill="rgb(0,128,0)"/>
<rect x="120.00" y="443.39" width="26.90" height="10.84" fill="rgb(48,0,0)"/>
<rect x="146.60" y="443.39" width="26.90" height="10.84" fill="rgb(8,0,0)"/>
<rect x="173.20" y="443.39" width="26.90" height="10.84" fill="rgb(40,0,0)"/>
<rect x="40.20" y="453.93" width="26.90" height="10.84" fill="rgb(192,0,0)"/>
<rect x="66.80" y="453.93" width="26.90" height="10.84" fill="rgb(16,0,0)"/>
<rect x="93.40" y="453.93" width="26.90" height="10.84" fill="rgb(80,0,0)"/>
<rect x="120.00" y="453.93" width="26.90" height="10.84" fill="rgb(0,140,0)"/>
<rect x="146.60" y="453.93" width="26.90" height="10.84" fill="rgb(112,0,0)"/>
<rect x="173.20" y="453.93" width="26.90" height="10.84" fill="rgb(0,224,0)"/>
<rect x="40.20" y="464.47" width="26.90" height="10.84" fill="rgb(192,0,0)"/>
<rect x="66.80" y="464.47" width="26.90" height="10.84" fill="rgb(96,0,0)"/>
<rect x="93.40" y="464.47" width="26.90" height="10.84" fill="rgb(80,0,0)"/>
<rect x="120.00" y="464.47" width="26.90" height="10.84" fill="rgb(0,140,0)"/>
<rect x="146.60" y="464.47" width="26.90" height="10.84" fill="rgb(0,80,0)"/>
<rect x="173.20" y="464.47" width="26.90" height="10.84" fill="rgb(0,156,0)"/>
<rect x="40.20" y="475.01" width="26.90" height="10.84" fill="rgb(192,0,0)"/>
<rect x="66.80" y="475.01" width="26.90" height="10.84" fill="rgb(176,0,0)"/>
<rect x="93.40" y="475.01" width="26.90" height="10.84" fill="rgb(80,0,0)"/>
<rect x="120.00" y="475.01" width="26.90" height="10.84" fill="rgb(0,140,0)"/>
<rect x="146.60" y="475.01" width="26.90" height="10.84" fill="rgb(0,40,0)"/>
<rect x="173.20" y="475.01" width="26.90" height="10.84" fill="rgb(0,156,0)"/>
<rect x="40.20" y="485.54" width="26.90" height="10.84" fill="rgb(0,80,0)"/>
<rect x="66.80" y="485.54" width="26.90" height="10.84" fill="rgb(0,32,0)"/>
<rect x="93.40" y="485.54" width="26.90" height="10.84" fill="rgb(0,192,0)"/>
<rect x="120.00" y="485.54" width="26.90" height="10.84" fill="rgb(0,32,0)"/>
<rect x="146.60" y="485.54" width="26.90" height="10.84" fill="rgb(232,0,0)"/>
<rect x="173.20" y="485.54" width="26.90" height="10.84" fill="rgb(112,0,0)"/>
<rect x="40.20" y="496.08" width="26.90" height="10.84" fill="rgb(48,0,0)"/>
<rect x="66.80" y="496.08" width="26.90" height="10.84" fill="rgb(0,40,0)"/>
<rect x="93.40" y="496.08" width="26.90" height="10.84" fill="rgb(0,240,0)"/>
<rect x="120.00" y="496.08" width="26.90" height="10.84" fill="rgb(48,0,0)"/>
<rect x="146.60" y="496.08" width="26.90" height="10.84" fill="rgb(224,0,0)"/>
<rect x="173.20" y="496.08" width="26.90" height="10.84" fill="rgb(8,0,0)"/>
<rect x="40.20" y="506.62" width="26.90" height="10.84" fill="rgb(192,0,0)"/>
<rect x="66.80" y="506.62" width="26.90" height="10.84" fill="rgb(128,0,0)"/>
<rect x="93.40" y="506.62" width="26.90" height="10.84" fill="rgb(128,0,0)"/>
<rect x="120.00" y="506.62" width="26.90" height="10.84" fill="rgb(0,144,0)"/>
<rect x="146.60" y="506.62" width="26.90" height="10.84" fill="rgb(0,80,0)"/>
<rect x="173.20" y="506.62" width="26.90" height="10.84" fill="rgb(0,144,0)"/>
<rect x="40.20" y="517.16" width="26.90" height="10.84" fill="rgb(0,80,0)"/>
<rect x="66.80" y="517.16" width="26.90" height="10.84" fill="rgb(128,0,0)"/>
<rect x="93.40" y="517.16" width="26.90" height="10.84" fill="rgb(224,0,0)"/>
<rect x="120.00" y="517.16" width="26.90" height="10.84" fill="rgb(0,208,0)"/>
<rect x="146.60" y="517.16" width="26.90" height="10.84" fill="rgb(0,80,0)"/>
<rect x="173.20" y="517.16" width="26.90" height="10.84" fill="rgb(48,0,0)"/>
<rect x="40.20" y="527.70" width="26.90" height="10.84" fill="rgb(192,0,0)"/>
<rect x="66.80" y="527.70" width="26.90" height="10.84" fill="rgb(128,0,0)"/>
<rect x="93.40" y="527.70" width="26.90" height="10.84" fill="rgb(96,0,0)"/>
<rect x="120.00" y="527.70" width="26.90" height="10.84" fill="rgb(0,140,0)"/>
<rect x="146.60" y="527.70" width="26.90" height="10.84" fill="rgb(0,112,0)"/>
<rect x="173.20" y="527.70" width="26.90" height="10.84" fill="rgb(0,96,0)"/>
<rect x="40.20" y="538.23" width="26.90" height="10.84" fill="rgb(0,224,0)"/>
<rect x="66.80" y="538.23" width="26.90" height="10.84" fill="rgb(144,0,0)"/>
<rect x="93.40" y="538.23" width="26.90" height="10.84" fill="rgb(128,0,0)"/>
<rect x="120.00" y="538.23" width="26.90" height="10.84" fill="rgb(48,0,0)"/>
<rect x="146.60" y="538.23" width="26.90" height="10.84" fill="rgb(128,0,0)"/>
<rect x="173.20" y="538.23" width="26.90" height="10.84" fill="rgb(0,144,0)"/>
<rect x="40.20" y="548.77" width="26.90" height="10.84" fill="rgb(128,0,0)"/>
<rect x="66.80" y="548.77" width="26.90" height="10.84" fill="rgb(128,0,0)"/>
<rect x="93.40" y="548.77" width="26.90" height="10.84" fill="rgb(144,0,0)"/>
<rect x="120.00" y="548.77" width="26.90" height="10.84" fill="rgb(0,240,0)"/>
<rect x="146.60" y="548.77" width="26.90" height="10.84" fill="rgb(0,80,0)"/>
<rect x="173.20" y="548.77" width="26.90" height="10.84" fill="rgb(0,40,0)"/>
<rect x="40.20" y="559.31" width="26.90" height="10.84" fill="rgb(0,40,0)"/>
<rect x="66.80" y="559.31" width="26.90" height="10.84" fill="rgb(0,32,0)"/>
<rect x="93.40" y="559.31" width="26.90" height="10.84" fill="rgb(255,0,0)"/>
<rect x="120.00" y="559.31" width="26.90" height="10.84" fill="rgb(0,144,0)"/>
<rect x="146.60" y="559.31" width="26.90" height="10.84" fill="rgb(0,128,0)"/>
<rect x="173.20" y="559.31" width="26.90" height="10.84" fill="rgb(64,0,0)"/>
<rect x="40.20" y="569.85" width="26.90" height="10.84" fill="rgb(0,240,0)"/>
<rect x="66.80" y="569.85" width="26.90" height="10.84" fill="rgb(48,0,0)"/>
<rect x="93.40" y="569.85" width="26.90" height="10.84" fill="rgb(160,0,0)"/>
<rect x="120.00" y="569.85" width="26.90" height="10.84" fill="rgb(0,48,0)"/>
<rect x="146.60" y="569.85" width="26.90" height="10.84" fill="rgb(48,0,0)"/>
<rect x="173.20" y="569.85" width="26.90" height="10.84" fill="rgb(64,0,0)"/>
<rect x="40.20" y="580.39" width="26.90" height="10.84" fill="rgb(0,160,0)"/>
<rect x="66.80" y="580.39" width="26.90" height="10.84" fill="rgb(0,80,0)"/>
<rect x="93.40" y="580.39" width="26.90" height="10.84" fill="rgb(8,0,0)"/>
<rect x="120.00" y="580.39" width="26.90" height="10.84" fill="rgb(32,0,0)"/>
<rect x="146.60" y="580.39" width="26.90" height="10.84" fill="rgb(8,0,0)"/>
<rect x="173.20" y="580.39" width="26.90" height="10.84" fill="rgb(224,0,0)"/>
<rect x="40.20" y="590.92" width="26.90" height="10.84" fill="rgb(160,0,0)"/>
<rect x="66.80" y="590.92" width="26.90" height="10.84" fill="rgb(80,0,0)"/>
<rect x="93.40" y="590.92" width="26.90" height="10.84" fill="rgb(160,0,0)"/>
<rect x="120.00" y="590.92" width="26.90" height="10.84" fill="rgb(0,80,0)"/>
<rect x="146.60" y="590.92" width="26.90" height="10.84" fill="rgb(0,144,0)"/>
<rect x="173.20" y="590.92" width="26.90" height="10.84" fill="rgb(0,144,0)"/>
<rect x="40.20" y="601.46" width="26.90" height="10.84" fill="rgb(0,144,0)"/>
<rect x="66.80" y="601.46" width="26.90" height="10.84" fill="rgb(80,0,0)"/>
<rect x="93.40" y="601.46" width="26.90" height="10.84" fill="rgb(0,176,0)"/>
<rect x="120.00" y="601.46" width="26.90" height="10.84" fill="rgb(48,0,0)"/>
<rect x="146.60" y="601.46" width="26.90" height="10.84" fill="rgb(208,0,0)"/>
<rect x="173.20" y="601.46" width="26.90" height="10.84" fill="rgb(80,0,0)"/>
<text x="209.40" y="317.77" font-size="12.75" text-anchor="start" font-weight="normal" font-style="normal" font-family="'Liberation Serif', serif" fill="#000" stroke="#000" stroke-width="0.3" >Ei24</text>
<text x="209.40" y="328.31" font-size="12.75" text-anchor="start" font-weight="normal" font-style="normal" font-family="'Liberation Serif', serif" fill="#000" stroke="#000" stroke-width="0.3" >Ctsd</text>
<text x="209.40" y="338.84" font-size="12.75" text-anchor="start" font-weight="normal" font-style="normal" font-family="'Liberation Serif', serif" fill="#000" stroke="#000" stroke-width="0.3" >Rb1</text>
<text x="209.40" y="349.38" font-size="12.75" text-anchor="start" font-weight="normal" font-style="normal" font-family="'Liberation Serif', serif" fill="#000" stroke="#000" stroke-width="0.3" >Mdm2</text>
<text x="209.40" y="359.92" font-size="12.75" text-anchor="start" font-weight="normal" font-style="normal" font-family="'Liberation Serif', serif" fill="#000" stroke="#000" stroke-width="0.3" >Pml</text>
<text x="209.40" y="370.46" font-size="12.75" text-anchor="start" font-weight="normal" font-style="normal" font-family="'Liberation Serif', serif" fill="#000" stroke="#000" stroke-width="0.3" >Sesn1</text>
<text x="209.40" y="381.00" font-size="12.75" text-anchor="start" font-weight="normal" font-style="normal" font-family="'Liberation Serif', serif" fill="#000" stroke="#000" stroke-width="0.3" >Btg2</text>
<text x="209.40" y="391.53" font-size="12.75" text-anchor="start" font-weight="normal" font-style="normal" font-family="'Liberation Serif', serif" fill="#000" stroke="#000" stroke-width="0.3" >Ccng1</text>
<text x="209.40" y="402.07" font-size="12.75" text-anchor="start" font-weight="normal" font-style="normal" font-family="'Liberation Serif', serif" fill="#000" stroke="#000" stroke-width="0.3" >Rps27l</text>
<text x="209.40" y="412.61" font-size="12.75" text-anchor="start" font-weight="normal" font-style="normal" font-family="'Liberation Serif', serif" fill="#000" stroke="#000" stroke-width="0.3" >Ptp4a3</text>
<text x="209.40" y="423.15" font-size="12.75" text-anchor="start" font-weight="normal" font-style="normal" font-family="'Liberation Serif', serif" fill="#000" stroke="#000" stroke-width="0.3" >Trp53inp1</text>
<text x="209.40" y="433.69" font-size="12.75" text-anchor="start" font-weight="normal" font-style="normal" font-family="'Liberation Serif', serif" fill="#000" stroke="#000" stroke-width="0.3" >Cdkn1a</text>
<text x="209.40" y="444.22" font-size="12.75" text-anchor="start" font-weight="normal" font-style="normal" font-family="'Liberation Serif', serif" fill="#000" stroke="#000" stroke-width="0.3" >Plk1</text>
<text x="209.40" y="454.76" font-size="12.75" text-anchor="start" font-weight="normal" font-style="normal" font-family="'Liberation Serif', serif" fill="#000" stroke="#000" stroke-width="0.3" >Tap1</text>
<text x="209.40" y="465.30" font-size="12.75" text-anchor="start" font-weight="normal" font-style="normal" font-family="'Liberation Serif', serif" fill="#000" stroke="#000" stroke-width="0.3" >Lrdd</text>
<text x="209.40" y="475.84" font-size="12.75" text-anchor="start" font-weight="normal" font-style="normal" font-family="'Liberation Serif', serif" fill="#000" stroke="#000" stroke-width="0.3" >Zmat3</text>
<text x="209.40" y="486.38" font-size="12.75" text-anchor="start" font-weight="normal" font-style="normal" font-family="'Liberation Serif', serif" fill="#000" stroke="#000" stroke-width="0.3" >Bax</text>
<text x="209.40" y="496.91" font-size="12.75" text-anchor="start" font-weight="normal" font-style="normal" font-family="'Liberation Serif', serif" fill="#000" stroke="#000" stroke-width="0.3" >Sesn2</text>
<text x="209.40" y="507.45" font-size="12.75" text-anchor="start" font-weight="normal" font-style="normal" font-family="'Liberation Serif', serif" fill="#000" stroke="#000" stroke-width="0.3" >Rchy1</text>
<text x="209.40" y="517.99" font-size="12.75" text-anchor="start" font-weight="normal" font-style="normal" font-family="'Liberation Serif', serif" fill="#000" stroke="#000" stroke-width="0.3" >Tnfrsf10b</text>
<text x="209.40" y="528.53" font-size="12.75" text-anchor="start" font-weight="normal" font-style="normal" font-family="'Liberation Serif', serif" fill="#000" stroke="#000" stroke-width="0.3" >Bbc3</text>
<text x="209.40" y="539.07" font-size="12.75" text-anchor="start" font-weight="normal" font-style="normal" font-family="'Liberation Serif', serif" fill="#000" stroke="#000" stroke-width="0.3" >Plk2</text>
<text x="209.40" y="549.60" font-size="12.75" text-anchor="start" font-weight="normal" font-style="normal" font-family="'Liberation Serif', serif" fill="#000" stroke="#000" stroke-width="0.3" >Tgfa</text>
<text x="209.40" y="560.14" font-size="12.75" text-anchor="start" font-weight="normal" font-style="normal" font-family="'Liberation Serif', serif" fill="#000" stroke="#000" stroke-width="0.3" >Pmaip1</text>
<text x="209.40" y="570.68" font-size="12.75" text-anchor="start" font-weight="normal" font-style="normal" font-family="'Liberation Serif', serif" fill="#000" stroke="#000" stroke-width="0.3" >Fas</text>
<text x="209.40" y="581.22" font-size="12.75" text-anchor="start" font-weight="normal" font-style="normal" font-family="'Liberation Serif', serif" fill="#000" stroke="#000" stroke-width="0.3" >Chmp4c</text>
<text x="209.40" y="591.76" font-size="12.75" text-anchor="start" font-weight="normal" font-style="normal" font-family="'Liberation Serif', serif" fill="#000" stroke="#000" stroke-width="0.3" >Scn3b</text>
<text x="209.40" y="602.29" font-size="12.75" text-anchor="start" font-weight="normal" font-style="normal" font-family="'Liberation Serif', serif" fill="#000" stroke="#000" stroke-width="0.3" >Ptprv</text>
<text x="209.40" y="612.83" font-size="12.75" text-anchor="start" font-weight="normal" font-style="normal" font-family="'Liberation Serif', serif" fill="#000" stroke="#000" stroke-width="0.3" >Perp</text>
<line x1="70.60" y1="278.20" x2="151.50" y2="278.20" stroke="#111" stroke-width="1.9"/>
<line x1="70.60" y1="278.20" x2="70.60" y2="291.00" stroke="#111" stroke-width="1.9"/>
<line x1="151.50" y1="278.20" x2="151.50" y2="291.50" stroke="#111" stroke-width="1.9"/>
<line x1="50.60" y1="290.90" x2="91.60" y2="290.90" stroke="#111" stroke-width="1.9"/>
<line x1="50.60" y1="290.90" x2="50.60" y2="299.20" stroke="#111" stroke-width="1.9"/>
<line x1="91.60" y1="290.90" x2="91.60" y2="294.20" stroke="#111" stroke-width="1.9"/>
<line x1="77.40" y1="294.20" x2="104.70" y2="294.20" stroke="#111" stroke-width="1.9"/>
<line x1="77.40" y1="294.20" x2="77.40" y2="299.20" stroke="#111" stroke-width="1.9"/>
<line x1="104.70" y1="294.20" x2="104.70" y2="299.20" stroke="#111" stroke-width="1.9"/>
<line x1="131.10" y1="291.50" x2="171.40" y2="291.50" stroke="#111" stroke-width="1.9"/>
<line x1="131.10" y1="291.50" x2="131.10" y2="299.20" stroke="#111" stroke-width="1.9"/>
<line x1="171.40" y1="291.50" x2="171.40" y2="293.60" stroke="#111" stroke-width="1.9"/>
<line x1="157.60" y1="293.60" x2="184.80" y2="293.60" stroke="#111" stroke-width="1.9"/>
<line x1="157.60" y1="293.60" x2="157.60" y2="299.20" stroke="#111" stroke-width="1.9"/>
<line x1="184.80" y1="293.60" x2="184.80" y2="299.20" stroke="#111" stroke-width="1.9"/>
<line x1="40.80" y1="618.40" x2="40.80" y2="628.10" stroke="#111" stroke-width="1.9"/>
<line x1="115.60" y1="618.40" x2="115.60" y2="628.10" stroke="#111" stroke-width="1.9"/>
<line x1="39.90" y1="627.30" x2="116.50" y2="627.30" stroke="#111" stroke-width="1.9"/>
<line x1="121.00" y1="618.40" x2="121.00" y2="628.10" stroke="#111" stroke-width="1.9"/>
<line x1="196.90" y1="618.40" x2="196.90" y2="628.10" stroke="#111" stroke-width="1.9"/>
<line x1="120.10" y1="627.30" x2="197.80" y2="627.30" stroke="#111" stroke-width="1.9"/>
<text x="52.70" y="624.80" font-size="12.0" text-anchor="middle" font-weight="normal" font-style="normal" font-family="'Liberation Serif', serif" fill="#000" stroke="#000" stroke-width="0.5" >1</text>
<text x="78.50" y="624.80" font-size="12.0" text-anchor="middle" font-weight="normal" font-style="normal" font-family="'Liberation Serif', serif" fill="#000" stroke="#000" stroke-width="0.5" >2</text>
<text x="105.00" y="624.80" font-size="12.0" text-anchor="middle" font-weight="normal" font-style="normal" font-family="'Liberation Serif', serif" fill="#000" stroke="#000" stroke-width="0.5" >3</text>
<text x="133.10" y="624.80" font-size="12.0" text-anchor="middle" font-weight="normal" font-style="normal" font-family="'Liberation Serif', serif" fill="#000" stroke="#000" stroke-width="0.5" >1</text>
<text x="159.00" y="624.80" font-size="12.0" text-anchor="middle" font-weight="normal" font-style="normal" font-family="'Liberation Serif', serif" fill="#000" stroke="#000" stroke-width="0.5" >2</text>
<text x="186.00" y="624.80" font-size="12.0" text-anchor="middle" font-weight="normal" font-style="normal" font-family="'Liberation Serif', serif" fill="#000" stroke="#000" stroke-width="0.5" >3</text>
<text x="79.00" y="641.60" font-size="12.9" text-anchor="middle" font-weight="normal" font-style="normal" font-family="'Liberation Serif', serif" fill="#000" stroke="#000" stroke-width="0.5" >Rluc.713</text>
<text x="158.50" y="641.60" font-size="12.9" text-anchor="middle" font-weight="normal" font-style="normal" font-family="'Liberation Serif', serif" fill="#000" stroke="#000" stroke-width="0.5" >Dhx9.1241</text>
<rect x="39.50" y="653.70" width="11.00" height="14.10" fill="rgb(255,0,0)"/>
<rect x="50.20" y="653.70" width="11.00" height="14.10" fill="rgb(219,0,0)"/>
<rect x="60.90" y="653.70" width="11.00" height="14.10" fill="rgb(182,0,0)"/>
<rect x="71.60" y="653.70" width="11.00" height="14.10" fill="rgb(146,0,0)"/>
<rect x="82.30" y="653.70" width="11.00" height="14.10" fill="rgb(109,0,0)"/>
<rect x="93.00" y="653.70" width="11.00" height="14.10" fill="rgb(73,0,0)"/>
<rect x="103.70" y="653.70" width="11.00" height="14.10" fill="rgb(36,0,0)"/>
<rect x="114.40" y="653.70" width="11.00" height="14.10" fill="rgb(0,0,0)"/>
<rect x="125.10" y="653.70" width="11.00" height="14.10" fill="rgb(0,36,0)"/>
<rect x="135.80" y="653.70" width="11.00" height="14.10" fill="rgb(0,73,0)"/>
<rect x="146.50" y="653.70" width="11.00" height="14.10" fill="rgb(0,109,0)"/>
<rect x="157.20" y="653.70" width="11.00" height="14.10" fill="rgb(0,146,0)"/>
<rect x="167.90" y="653.70" width="11.00" height="14.10" fill="rgb(0,182,0)"/>
<rect x="178.60" y="653.70" width="11.00" height="14.10" fill="rgb(0,219,0)"/>
<rect x="189.30" y="653.70" width="11.00" height="14.10" fill="rgb(0,255,0)"/>
<rect x="39.50" y="653.70" width="160.50" height="14.10" fill="none" stroke="#111" stroke-width="1"/>
<text x="74.40" y="679.60" font-size="12.6" text-anchor="middle" font-weight="normal" font-style="normal" font-family="'Liberation Serif', serif" fill="#000" stroke="#000" stroke-width="0.5" >−1</text>
<text x="123.40" y="679.60" font-size="12.6" text-anchor="middle" font-weight="normal" font-style="normal" font-family="'Liberation Serif', serif" fill="#000" stroke="#000" stroke-width="0.5" >0</text>
<text x="162.60" y="679.60" font-size="12.6" text-anchor="middle" font-weight="normal" font-style="normal" font-family="'Liberation Serif', serif" fill="#000" stroke="#000" stroke-width="0.5" >1</text>
<text x="130.00" y="694.20" font-size="13.1" text-anchor="middle" font-weight="normal" font-style="normal" font-family="'Liberation Serif', serif" fill="#000" stroke="#000" stroke-width="0.5" >Row Z−Score</text>
<text x="366.60" y="314.30" font-size="13.0" text-anchor="end" font-weight="bold" font-style="normal" font-family="'Liberation Serif', serif" fill="#000" stroke="#000" stroke-width="0.5" >Rluc.713:</text>
<text x="366.60" y="329.50" font-size="12.9" text-anchor="end" font-weight="bold" font-style="normal" font-family="'Liberation Serif', serif" fill="#000" stroke="#000" stroke-width="0.5" >Dhx9.1241:</text>
<line x1="372.70" y1="302.70" x2="419.50" y2="302.70" stroke="#222" stroke-width="1.3"/>
<line x1="427.40" y1="302.70" x2="469.60" y2="302.70" stroke="#222" stroke-width="1.3"/>
<text x="386.8" y="300.8" font-size="13.3" font-weight="bold" font-style="italic" font-family="'Liberation Serif', serif" fill="#111" stroke="#111" stroke-width="0.3">Arf<tspan font-size="9" dy="-5.2" dx="0.6">-/-</tspan></text>
<text x="437.6" y="300.8" font-size="13.3" font-weight="bold" font-style="italic" font-family="'Liberation Serif', serif" fill="#111" stroke="#111" stroke-width="0.3">p53<tspan font-size="9" dy="-5.2" dx="0.6">-/-</tspan></text>
<text x="383.20" y="313.30" font-size="13.6" text-anchor="middle" font-weight="bold" font-style="normal" font-family="'Liberation Serif', serif" fill="#000" stroke="#000" stroke-width="0.5" >+</text>
<text x="431.30" y="313.30" font-size="13.6" text-anchor="middle" font-weight="bold" font-style="normal" font-family="'Liberation Serif', serif" fill="#000" stroke="#000" stroke-width="0.5" >+</text>
<text x="407.50" y="329.20" font-size="13.6" text-anchor="middle" font-weight="bold" font-style="normal" font-family="'Liberation Serif', serif" fill="#000" stroke="#000" stroke-width="0.5" >+</text>
<text x="458.30" y="329.20" font-size="13.6" text-anchor="middle" font-weight="bold" font-style="normal" font-family="'Liberation Serif', serif" fill="#000" stroke="#000" stroke-width="0.5" >+</text>
<rect x="372.6" y="336.2" width="97.6" height="28.6" fill="#c8c8c8"/>
<rect x="372.6" y="349" width="97.6" height="15.8" fill="#bdbdbd" filter="url(#b10)"/>
<rect x="372.6" y="361.5" width="97.6" height="3.3" fill="#a6a6a6"/>
<rect x="372.6" y="367.3" width="97.6" height="15.6" fill="#d3d3d3"/>
<rect x="372.6" y="386.6" width="97.6" height="15.3" fill="#d2d2d2"/>
<clipPath id="cpuma"><rect x="372.6" y="386.6" width="97.6" height="15.3"/></clipPath>
<g clip-path="url(#cpuma)"><ellipse cx="458" cy="390" rx="14" ry="4" fill="#bababa" filter="url(#b15)"/></g>
<rect x="372.6" y="405.6" width="97.6" height="17.0" fill="#d3d3d3"/>
<rect x="372.6" y="428.4" width="97.6" height="17.8" fill="#c9c9c9"/>
<rect x="375.30" y="339.70" width="18.70" height="3.20" rx="1.60" ry="1.60" fill="#141414" opacity="1.0" filter="url(#b6)"/>
<rect x="400.20" y="340.50" width="16.60" height="2.60" rx="1.30" ry="1.30" fill="#707070" opacity="1.0" filter="url(#b7)"/>
<rect x="423.00" y="339.10" width="17.70" height="4.80" rx="2.40" ry="2.40" fill="#0c0c0c" opacity="1.0" filter="url(#b7)"/>
<rect x="446.90" y="340.80" width="16.60" height="2.00" rx="1.00" ry="1.00" fill="#acacac" opacity="1.0" filter="url(#b7)"/>
<rect x="373.20" y="353.90" width="25.30" height="6.20" rx="3.10" ry="3.10" fill="#0e0e0e" opacity="1.0" filter="url(#b7)"/>
<rect x="397.50" y="353.70" width="25.00" height="6.20" rx="3.10" ry="3.10" fill="#0e0e0e" opacity="1.0" filter="url(#b7)"/>
<rect x="421.50" y="354.10" width="23.50" height="5.80" rx="2.90" ry="2.90" fill="#131313" opacity="1.0" filter="url(#b7)"/>
<rect x="444.00" y="354.50" width="25.50" height="5.40" rx="2.70" ry="2.70" fill="#141414" opacity="1.0" filter="url(#b7)"/>
<rect x="374.00" y="373.40" width="19.00" height="4.00" rx="2.00" ry="2.00" fill="#404040" opacity="1.0" filter="url(#b9)"/>
<rect x="400.20" y="372.20" width="16.30" height="5.40" rx="2.70" ry="2.70" fill="#141414" opacity="1.0" filter="url(#b8)"/>
<rect x="373.10" y="396.10" width="16.30" height="3.00" rx="1.50" ry="1.50" fill="#8a8a8a" opacity="1.0" filter="url(#b10)"/>
<rect x="398.20" y="393.40" width="18.70" height="4.80" rx="2.40" ry="2.40" fill="#222" opacity="1.0" filter="url(#b10)"/>
<rect x="426.10" y="394.30" width="14.30" height="3.80" rx="1.90" ry="1.90" fill="#6c6c6c" opacity="1.0" filter="url(#b10)"/>
<rect x="448.50" y="393.40" width="20.40" height="4.80" rx="2.40" ry="2.40" fill="#4a4a4a" opacity="1.0" filter="url(#b11)"/>
<rect x="398.20" y="412.70" width="18.80" height="2.60" rx="1.30" ry="1.30" fill="#181818" opacity="1.0" filter="url(#b6)"/>
<circle cx="389.1" cy="421.0" r="0.9" fill="#333"/>
<rect x="373.50" y="432.00" width="21.00" height="3.00" rx="1.50" ry="1.50" fill="#555" opacity="1.0" filter="url(#b8)"/>
<rect x="399.60" y="431.20" width="18.40" height="4.40" rx="2.20" ry="2.20" fill="#1a1a1a" opacity="1.0" filter="url(#b7)"/>
<rect x="422.00" y="431.40" width="19.40" height="4.80" rx="2.40" ry="2.40" fill="#111" opacity="1.0" filter="url(#b7)"/>
<rect x="443.40" y="431.40" width="23.50" height="4.80" rx="2.40" ry="2.40" fill="#111" opacity="1.0" filter="url(#b7)"/>
<rect x="374.00" y="441.50" width="16.00" height="2.00" rx="1.00" ry="1.00" fill="#a4a4a4" opacity="1.0" filter="url(#b7)"/>
<rect x="399.60" y="440.90" width="16.40" height="3.00" rx="1.50" ry="1.50" fill="#454545" opacity="1.0" filter="url(#b7)"/>
<rect x="424.00" y="441.70" width="16.00" height="1.60" rx="0.80" ry="0.80" fill="#bcbcbc" opacity="1.0" filter="url(#b7)"/>
<rect x="448.50" y="441.40" width="15.30" height="2.20" rx="1.10" ry="1.10" fill="#909090" opacity="1.0" filter="url(#b7)"/>
<text x="367.30" y="347.70" font-size="12.6" text-anchor="end" font-weight="normal" font-style="normal" font-family="'Liberation Serif', serif" fill="#000" stroke="#000" stroke-width="0.5" >Dhx9</text>
<text x="367.30" y="363.30" font-size="12.6" text-anchor="end" font-weight="normal" font-style="normal" font-family="'Liberation Serif', serif" fill="#000" stroke="#000" stroke-width="0.5" >eEF2</text>
<text x="367.30" y="379.40" font-size="12.6" text-anchor="end" font-weight="normal" font-style="normal" font-family="'Liberation Serif', serif" fill="#000" stroke="#000" stroke-width="0.5" >p21</text>
<text x="367.30" y="397.10" font-size="12.6" text-anchor="end" font-weight="normal" font-style="normal" font-family="'Liberation Serif', serif" fill="#000" stroke="#000" stroke-width="0.5" >Puma</text>
<text x="367.30" y="418.70" font-size="12.6" text-anchor="end" font-weight="normal" font-style="normal" font-family="'Liberation Serif', serif" fill="#000" stroke="#000" stroke-width="0.5" >p53</text>
<text x="367.30" y="440.90" font-size="12.6" text-anchor="end" font-weight="normal" font-style="normal" font-family="'Liberation Serif', serif" fill="#000" stroke="#000" stroke-width="0.5" >Bim</text>
<text x="367.60" y="460.40" font-size="13.0" text-anchor="end" font-weight="bold" font-style="normal" font-family="'Liberation Serif', serif" fill="#000" stroke="#000" stroke-width="0.5" >Fold Induction:</text>
<text x="383.60" y="461.60" font-size="12.6" text-anchor="middle" font-weight="bold" font-style="normal" font-family="'Liberation Serif', serif" fill="#000" stroke="#000" stroke-width="0.5" >-</text>
<text x="407.30" y="461.90" font-size="12.6" text-anchor="middle" font-weight="bold" font-style="normal" font-family="'Liberation Serif', serif" fill="#000" stroke="#000" stroke-width="0.5" >5.8</text>
<text transform="translate(340.30,566.20) rotate(-90)" font-size="12.6" text-anchor="start" font-weight="normal" font-family="'Liberation Serif', serif" fill="#000" stroke="#000" stroke-width="0.5">Fluc.1309</text>
<text transform="translate(363.40,566.20) rotate(-90)" font-size="12.6" text-anchor="start" font-weight="normal" font-family="'Liberation Serif', serif" fill="#000" stroke="#000" stroke-width="0.5">Dhx9.293</text>
<text transform="translate(384.50,566.20) rotate(-90)" font-size="12.6" text-anchor="start" font-weight="normal" font-family="'Liberation Serif', serif" fill="#000" stroke="#000" stroke-width="0.5">Dhx9.840</text>
<text transform="translate(404.70,566.20) rotate(-90)" font-size="12.6" text-anchor="start" font-weight="normal" font-family="'Liberation Serif', serif" fill="#000" stroke="#000" stroke-width="0.5">Dhx9.1218</text>
<text transform="translate(427.00,566.20) rotate(-90)" font-size="12.6" text-anchor="start" font-weight="normal" font-family="'Liberation Serif', serif" fill="#000" stroke="#000" stroke-width="0.5">Dhx9.1241</text>
<text transform="translate(448.50,566.20) rotate(-90)" font-size="12.6" text-anchor="start" font-weight="normal" font-family="'Liberation Serif', serif" fill="#000" stroke="#000" stroke-width="0.5">Dhx9.1271</text>
<text transform="translate(468.70,566.20) rotate(-90)" font-size="12.6" text-anchor="start" font-weight="normal" font-family="'Liberation Serif', serif" fill="#000" stroke="#000" stroke-width="0.5">Dhx9.3596</text>
<text transform="translate(488.70,566.20) rotate(-90)" font-size="12.6" text-anchor="start" font-weight="normal" font-family="'Liberation Serif', serif" fill="#000" stroke="#000" stroke-width="0.5">Mcl-1.1334</text>
<rect x="322.3" y="572.4" width="176.5" height="18.0" fill="#e4e4e4"/>
<rect x="322.3" y="593.4" width="176.5" height="17.8" fill="#e0e0e0"/>
<rect x="326.90" y="579.80" width="16.20" height="1.80" rx="0.90" ry="0.90" fill="#b0b0b0" opacity="1.0" filter="url(#b7)"/>
<rect x="350.50" y="579.80" width="14.50" height="1.80" rx="0.90" ry="0.90" fill="#b8b8b8" opacity="1.0" filter="url(#b7)"/>
<rect x="369.60" y="579.50" width="15.40" height="2.40" rx="1.20" ry="1.20" fill="#6a6a6a" opacity="1.0" filter="url(#b7)"/>
<rect x="391.50" y="579.80" width="15.00" height="1.80" rx="0.90" ry="0.90" fill="#a4a4a4" opacity="1.0" filter="url(#b7)"/>
<rect x="412.70" y="579.30" width="15.00" height="2.80" rx="1.40" ry="1.40" fill="#383838" opacity="1.0" filter="url(#b7)"/>
<rect x="434.20" y="579.40" width="14.70" height="2.60" rx="1.30" ry="1.30" fill="#505050" opacity="1.0" filter="url(#b7)"/>
<rect x="455.40" y="579.60" width="14.50" height="2.20" rx="1.10" ry="1.10" fill="#707070" opacity="1.0" filter="url(#b7)"/>
<rect x="476.20" y="579.70" width="15.00" height="2.00" rx="1.00" ry="1.00" fill="#8e8e8e" opacity="1.0" filter="url(#b7)"/>
<rect x="325.90" y="599.60" width="18.40" height="4.80" rx="2.40" ry="2.40" fill="#262626" opacity="1.0" filter="url(#b9)"/>
<rect x="349.50" y="599.60" width="16.70" height="4.80" rx="2.40" ry="2.40" fill="#262626" opacity="1.0" filter="url(#b9)"/>
<rect x="368.60" y="599.60" width="17.60" height="4.80" rx="2.40" ry="2.40" fill="#262626" opacity="1.0" filter="url(#b9)"/>
<rect x="390.50" y="599.60" width="17.20" height="4.80" rx="2.40" ry="2.40" fill="#262626" opacity="1.0" filter="url(#b9)"/>
<rect x="411.70" y="599.60" width="17.20" height="4.80" rx="2.40" ry="2.40" fill="#262626" opacity="1.0" filter="url(#b9)"/>
<rect x="433.20" y="599.60" width="16.90" height="4.80" rx="2.40" ry="2.40" fill="#262626" opacity="1.0" filter="url(#b9)"/>
<rect x="454.40" y="599.90" width="16.70" height="4.80" rx="2.40" ry="2.40" fill="#262626" opacity="1.0" filter="url(#b9)"/>
<rect x="475.20" y="599.10" width="17.20" height="4.80" rx="2.40" ry="2.40" fill="#262626" opacity="1.0" filter="url(#b9)"/>
<text x="318.80" y="588.10" font-size="12.6" text-anchor="end" font-weight="normal" font-style="normal" font-family="'Liberation Serif', serif" fill="#000" stroke="#000" stroke-width="0.5" >p53</text>
<text x="318.80" y="608.40" font-size="12.6" text-anchor="end" font-weight="normal" font-style="normal" font-family="'Liberation Serif', serif" fill="#000" stroke="#000" stroke-width="0.5" >eEF2</text>
</svg>
</body></html>
